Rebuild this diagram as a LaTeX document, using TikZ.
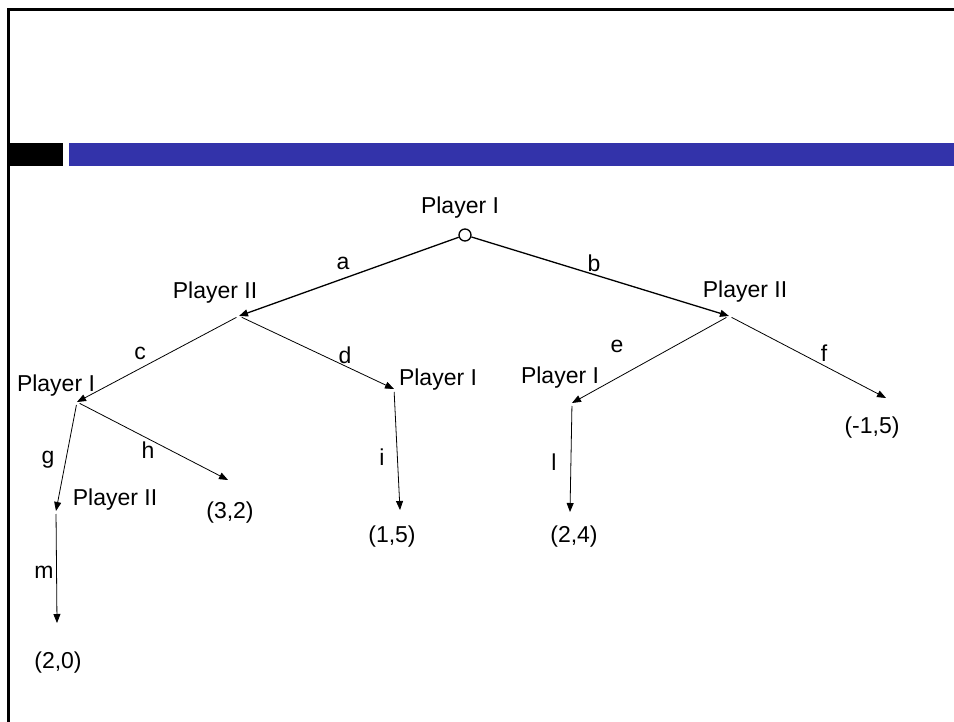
\documentclass[tikz,border=0pt]{standalone}
\usepackage{fontspec}
\setmainfont{Liberation Sans}
\usetikzlibrary{arrows.meta}
\definecolor{barblue}{RGB}{51,51,170}
\begin{document}
\begin{tikzpicture}[x=1pt,y=-1pt,
  move/.style={-{Triangle[length=9pt,width=7pt]},line width=0.8pt,shorten <=3pt},
  txt/.style={font=\fontsize{23}{27}\selectfont,inner sep=0pt}]
\useasboundingbox (0,0) rectangle (954,722);
% frame and title bar
\draw[line width=3pt] (8,722)--(8,10)--(954,10);
\fill (8,143) rectangle (63,166);
\fill[barblue] (69,143) rectangle (954,166);
% decision points
\node[circle,draw,line width=1.3pt,minimum size=12pt,inner sep=0pt] (root) at (465,235) {};
\coordinate (p2l) at (239,316);
\coordinate (p2r) at (729,316);
\coordinate (p1a) at (77,402);
\coordinate (p1b) at (394,389);
\coordinate (p1c) at (572,403);
\coordinate (p2b) at (56,511);
% payoffs
\coordinate (oh) at (228,480);
\coordinate (oi) at (400,510);
\coordinate (ol) at (570,512);
\coordinate (of) at (886,398);
\coordinate (om) at (57,623);
\node[txt] (t0) at (460,208) {Player I};
\node[txt] (t1) at (215,293) {Player II};
\node[txt] (t2) at (745,292) {Player II};
\node[txt] (t3) at (56,386) {Player I};
\node[txt] (t4) at (438,380) {Player I};
\node[txt] (t5) at (560,378) {Player I};
\node[txt] (t6) at (115,500) {Player II};
\node[txt] (v1) at (230,513) {(3,2)};
\node[txt] (v2) at (392,537) {(1,5)};
\node[txt] (v3) at (574,537) {(2,4)};
\node[txt] (v4) at (872,428) {(-1,5)};
\node[txt] (v5) at (58,663) {(2,0)};
% moves
\draw[move,line width=1.3pt,shorten <=0pt] (root) -- (p2l);
\draw[move,line width=1.3pt,shorten <=0pt] (root) -- (p2r);
\draw[move] (p2l) -- (p1a);
\draw[move] (p2l) -- (p1b);
\draw[move] (p2r) -- (p1c);
\draw[move] (p2r) -- (of);
\draw[move] (p1a) -- (p2b);
\draw[move] (p1a) -- (oh);
\draw[move] (p1b) -- (oi);
\draw[move] (p1c) -- (ol);
\draw[move] (p2b) -- (om);
% move names
\node[txt] (ma) at (343,263) {a};
\node[txt] (mb) at (594,263) {b};
\node[txt] (mc) at (140,353) {c};
\node[txt] (md) at (345,355) {d};
\node[txt] (me) at (617,346) {e};
\node[txt] (mf) at (824,353) {f};
\node[txt] (mg) at (48,460) {g};
\node[txt] (mh) at (148,450) {h};
\node[txt] (mi) at (382,457) {i};
\node[txt] (ml) at (554,462) {l};
\node[txt] (mm) at (44,572) {m};
\end{tikzpicture}
\end{document}
